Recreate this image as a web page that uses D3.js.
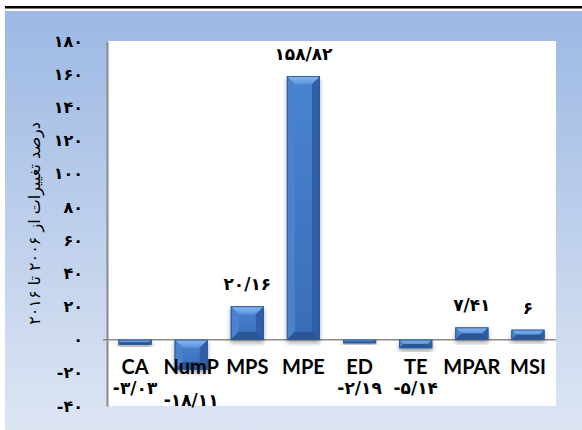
<!DOCTYPE html>
<html>
<head>
<meta charset="utf-8">
<script src="https://cdn.jsdelivr.net/npm/d3@7"></script>
<style>
  html, body { margin: 0; padding: 0; background: #ffffff; }
  svg { display: block; }
</style>
</head>
<body>
<svg id="chart" width="582" height="430"></svg>
<script>
// Landscape metrics: percentage change 2006 → 2016
const categories = ["CA", "NumP", "MPS", "MPE", "ED", "TE", "MPAR", "MSI"];
const changes = [-3.03, -18.11, 20.16, 158.82, -2.19, -5.14, 7.41, 6];
const yTicks = [-40, -20, 0, 20, 40, 60, 80, 100, 120, 140, 160, 180];
const yTitle = "درصد تغییرات از ۲۰۰۶ تا ۲۰۱۶";

// Persian digits, "/" as decimal separator
const faDigits = "۰۱۲۳۴۵۶۷۸۹";
function toFa(v) {
  return String(v).replace(/[0-9]/g, d => faDigits[+d]).replace(".", "/");
}
function fmtVal(v) {
  const s = Number.isInteger(v) ? String(v) : v.toFixed(2);
  return toFa(s);
}

const svg = d3.select("#chart");
const W = 582, H = 430;
const plot = { left: 107, right: 556, top: 41, bottom: 406 };

const defs = svg.append("defs");

// Outer background gradient
const bg = defs.append("linearGradient").attr("id", "bgGrad")
  .attr("x1", 0).attr("y1", 0).attr("x2", 0).attr("y2", 1);
bg.append("stop").attr("offset", "0%").attr("stop-color", "#9cb8e3");
bg.append("stop").attr("offset", "100%").attr("stop-color", "#dde5f3");

// Bar face gradient
const face = defs.append("linearGradient").attr("id", "faceGrad")
  .attr("x1", 0).attr("y1", 0).attr("x2", 0).attr("y2", 1);
face.append("stop").attr("offset", "0%").attr("stop-color", "#4a84d0");
face.append("stop").attr("offset", "100%").attr("stop-color", "#3a6db7");

const topBev = defs.append("linearGradient").attr("id", "topBev")
  .attr("x1", 0).attr("y1", 0).attr("x2", 0).attr("y2", 1);
topBev.append("stop").attr("offset", "0%").attr("stop-color", "#8dbaf0");
topBev.append("stop").attr("offset", "100%").attr("stop-color", "#5a92dc");

const shadow = defs.append("filter").attr("id", "barShadow")
  .attr("x", "-20%").attr("y", "-20%").attr("width", "140%").attr("height", "160%");
shadow.append("feDropShadow").attr("dx", 0).attr("dy", 3).attr("stdDeviation", 2)
  .attr("flood-color", "#000").attr("flood-opacity", 0.35);

// Background panel and top rule
svg.append("rect").attr("x", 5).attr("y", 11).attr("width", W - 5).attr("height", H - 11)
  .attr("fill", "url(#bgGrad)");
svg.append("rect").attr("x", 5).attr("y", 6).attr("width", W - 5).attr("height", 2.5)
  .attr("fill", "#000");

// Plot area
svg.append("rect").attr("x", plot.left).attr("y", plot.top)
  .attr("width", plot.right - plot.left).attr("height", plot.bottom - plot.top)
  .attr("fill", "#ffffff");

const x = d3.scaleBand().domain(categories)
  .range([plot.left, plot.right]).paddingInner(0.41).paddingOuter(0.205);
const y = d3.scaleLinear().domain([-40, 180]).range([plot.bottom, plot.top]);

// Y axis
const yAxis = d3.axisLeft(y).tickValues(yTicks).tickFormat(toFa)
  .tickSizeInner(0).tickSizeOuter(0).tickPadding(24);
const gy = svg.append("g").attr("transform", `translate(${plot.left},0)`).call(yAxis);
gy.select(".domain").attr("stroke", "#8a8a8a").attr("stroke-width", 2);
gy.selectAll("text")
  .attr("font-family", "DejaVu Sans").attr("font-weight", "bold")
  .attr("font-size", 16).attr("fill", "#000");

// Zero baseline
svg.append("line").attr("x1", plot.left - 4).attr("x2", plot.right)
  .attr("y1", y(0)).attr("y2", y(0))
  .attr("stroke", "#8a8a8a").attr("stroke-width", 1.5);

// Bars with bevelled faces
const data = categories.map((c, i) => ({ c, v: changes[i] }));
const bars = svg.append("g").selectAll("g.bar").data(data).join("g")
  .attr("class", "bar").attr("filter", "url(#barShadow)");

bars.each(function (d) {
  const g = d3.select(this);
  const bx = x(d.c), bw = x.bandwidth();
  const by = Math.min(y(d.v), y(0)), bh = Math.abs(y(d.v) - y(0));
  const b = Math.min(8, bh / 2, bw / 2);
  g.append("rect").attr("x", bx).attr("y", by).attr("width", bw).attr("height", bh)
    .attr("fill", "url(#faceGrad)");
  const pts = arr => arr.map(p => p.join(",")).join(" ");
  g.append("polygon").attr("points", pts([[bx, by], [bx + bw, by], [bx + bw - b, by + b], [bx + b, by + b]]))
    .attr("fill", "url(#topBev)");
  g.append("polygon").attr("points", pts([[bx, by], [bx + b, by + b], [bx + b, by + bh - b], [bx, by + bh]]))
    .attr("fill", "#4b82cc");
  g.append("polygon").attr("points", pts([[bx + bw, by], [bx + bw, by + bh], [bx + bw - b, by + bh - b], [bx + bw - b, by + b]]))
    .attr("fill", "#2f5fa6");
  g.append("polygon").attr("points", pts([[bx, by + bh], [bx + b, by + bh - b], [bx + bw - b, by + bh - b], [bx + bw, by + bh]]))
    .attr("fill", "#2c5797");
  g.append("rect").attr("x", bx + 0.5).attr("y", by + 0.5).attr("width", bw - 1).attr("height", Math.max(0, bh - 1))
    .attr("fill", "none").attr("stroke", "#2d5a9c").attr("stroke-width", 1);
});

// Category labels
svg.append("g").selectAll("text").data(categories).join("text")
  .attr("x", d => x(d) + x.bandwidth() / 2)
  .attr("y", 374)
  .attr("text-anchor", "middle")
  .attr("font-family", "Lato, 'Open Sans', sans-serif")
  .attr("font-weight", "bold").attr("font-size", 20).attr("fill", "#000")
  .text(d => d);

// Value labels
svg.append("g").selectAll("text").data(data).join("text")
  .attr("x", d => x(d.c) + x.bandwidth() / 2)
  .attr("y", d => d.v >= 0 ? y(d.v) - 16 : Math.max(y(d.v) + 36, y(0) + 54))
  .attr("text-anchor", "middle")
  .attr("font-family", "DejaVu Sans").attr("font-weight", "bold")
  .attr("font-size", 17).attr("fill", "#000")
  .text(d => fmtVal(d.v));

// Y axis title
svg.append("text")
  .attr("transform", `translate(40,${(y(180) + y(-40)) / 2}) rotate(-90)`)
  .attr("text-anchor", "middle")
  .attr("font-family", "DejaVu Sans").attr("font-size", 16).attr("fill", "#000")
  .text(yTitle);
</script>
</body>
</html>
